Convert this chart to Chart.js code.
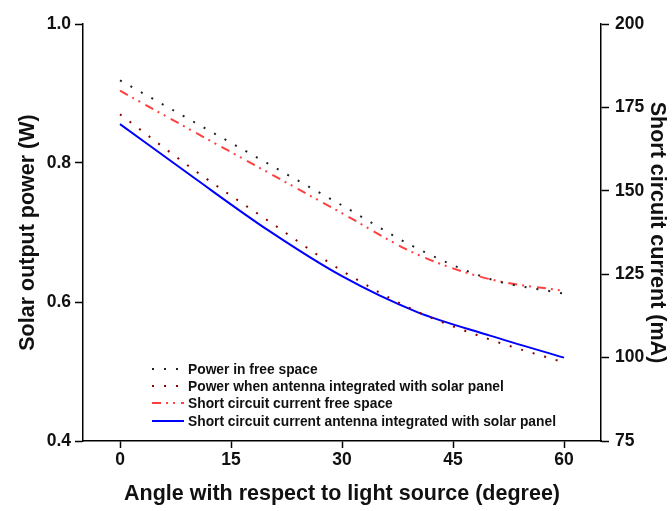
<!DOCTYPE html>
<html>
<head>
<meta charset="utf-8">
<script src="https://cdn.jsdelivr.net/npm/chart.js@4/dist/chart.umd.min.js"></script>
<style>
  html, body { margin: 0; padding: 0; background: #fff; }
  #wrap { width: 672px; height: 511px; }
</style>
</head>
<body>
<div id="wrap"><canvas id="solarChart" width="672" height="511"></canvas></div>
<script>
// Data
const angles = [0, 10, 20, 30, 40, 50, 60];
const powerFree = [0.919, 0.859, 0.799, 0.739, 0.678, 0.633, 0.612];
const powerAntenna = [0.870, 0.790, 0.717, 0.645, 0.587, 0.546, 0.513];
const currentFree = [180, 167.7, 155.5, 143.3, 131.1, 123.5, 120];
const currentAntenna = [170, 153.9, 138.2, 124.4, 113.8, 106.6, 100];

const xTicks = [0, 15, 30, 45, 60];
const powerTicks = [0.4, 0.6, 0.8, 1.0];
const currentTicks = [75, 100, 125, 150, 175, 200];

const labels = [
    'Power in free space',
    'Power when antenna integrated with solar panel',
    'Short circuit current free space',
    'Short circuit current antenna integrated with solar panel'
];

const FONT = '"Liberation Sans", Arial, sans-serif';

function toPoints(xs, ys) {
    return xs.map((x, i) => ({ x: x, y: ys[i] }));
}

// Legend drawn inside the plot area, bottom-left
const insideLegend = {
    id: 'insideLegend',
    afterDraw(chart) {
        const ctx = chart.ctx;
        const rows = [369, 386, 403, 421];
        ctx.save();
        chart.data.datasets.forEach((ds, i) => {
            const y = rows[i];
            ctx.beginPath();
            ctx.strokeStyle = ds.borderColor;
            ctx.lineWidth = ds.borderWidth;
            ctx.setLineDash(ds.borderDash || []);
            ctx.moveTo(152, y);
            ctx.lineTo(184, y);
            ctx.stroke();
            ctx.setLineDash([]);
            ctx.fillStyle = '#111';
            ctx.font = 'bold 13.8px ' + FONT;
            ctx.textBaseline = 'middle';
            ctx.textAlign = 'left';
            ctx.fillText(ds.label, 188, y + 1);
        });
        ctx.restore();
    }
};

const ctx = document.getElementById('solarChart').getContext('2d');
new Chart(ctx, {
    type: 'scatter',
    data: {
        datasets: [
            {
                label: labels[0],
                data: toPoints(angles, powerFree),
                yAxisID: 'yPower',
                borderColor: '#222222',
                borderWidth: 2,
                borderDash: [2, 10],
                showLine: true,
                pointRadius: 0,
                cubicInterpolationMode: 'monotone'
            },
            {
                label: labels[1],
                data: toPoints(angles, powerAntenna),
                yAxisID: 'yPower',
                borderColor: '#8b0000',
                borderWidth: 2,
                borderDash: [2, 10],
                showLine: true,
                pointRadius: 0,
                cubicInterpolationMode: 'monotone'
            },
            {
                label: labels[2],
                data: toPoints(angles, currentFree),
                yAxisID: 'yCurrent',
                borderColor: '#ff4040',
                borderWidth: 2,
                borderDash: [9, 5, 2, 5, 2, 6],
                showLine: true,
                pointRadius: 0,
                cubicInterpolationMode: 'monotone'
            },
            {
                label: labels[3],
                data: toPoints(angles, currentAntenna),
                yAxisID: 'yCurrent',
                borderColor: '#0000ff',
                borderWidth: 2,
                showLine: true,
                pointRadius: 0,
                cubicInterpolationMode: 'monotone'
            }
        ]
    },
    options: {
        responsive: false,
        animation: false,
        layout: { padding: { top: 24, left: 0, right: 0, bottom: 0 } },
        plugins: {
            legend: { display: false },
            tooltip: { enabled: false }
        },
        scales: {
            x: {
                type: 'linear',
                min: -5,
                max: 65,
                afterBuildTicks: (scale) => { scale.ticks = xTicks.map(v => ({ value: v })); },
                afterFit: (scale) => { scale.height = 70; },
                grid: { drawOnChartArea: false, tickLength: 7, color: '#000', tickWidth: 1.5 },
                border: { display: true, color: '#000', width: 1.5 },
                ticks: { color: '#111', font: { family: FONT, size: 17.5, weight: 'bold' }, padding: 2, maxRotation: 0 },
                title: {
                    display: true,
                    text: 'Angle with respect to light source (degree)',
                    color: '#111',
                    font: { family: FONT, size: 21.5, weight: 'bold' },
                    padding: { top: 0 }
                }
            },
            yPower: {
                type: 'linear',
                position: 'left',
                min: 0.4,
                max: 1.0,
                afterBuildTicks: (scale) => { scale.ticks = powerTicks.map(v => ({ value: v })); },
                afterFit: (scale) => { scale.width = 83; },
                grid: { drawOnChartArea: false, tickLength: 8, color: '#000', tickWidth: 1.5 },
                border: { display: true, color: '#000', width: 1.5 },
                ticks: {
                    color: '#111',
                    font: { family: FONT, size: 17.5, weight: 'bold' },
                    padding: 4,
                    callback: (v) => v.toFixed(1)
                },
                title: {
                    display: true,
                    text: 'Solar output power (W)',
                    color: '#111',
                    font: { family: FONT, size: 21.5, weight: 'bold' },
                    padding: { top: 15, bottom: 4 }
                }
            },
            yCurrent: {
                type: 'linear',
                position: 'right',
                min: 75,
                max: 200,
                afterBuildTicks: (scale) => { scale.ticks = currentTicks.map(v => ({ value: v })); },
                afterFit: (scale) => { scale.width = 71; },
                grid: { drawOnChartArea: false, tickLength: 8, color: '#000', tickWidth: 1.5 },
                border: { display: true, color: '#000', width: 1.5 },
                ticks: { color: '#111', font: { family: FONT, size: 17.5, weight: 'bold' }, padding: 6 },
                title: {
                    display: true,
                    text: 'Short circuit current (mA)',
                    color: '#111',
                    font: { family: FONT, size: 21.5, weight: 'bold' },
                    padding: { top: 2 }
                }
            }
        }
    },
    plugins: [insideLegend]
});
</script>
</body>
</html>
